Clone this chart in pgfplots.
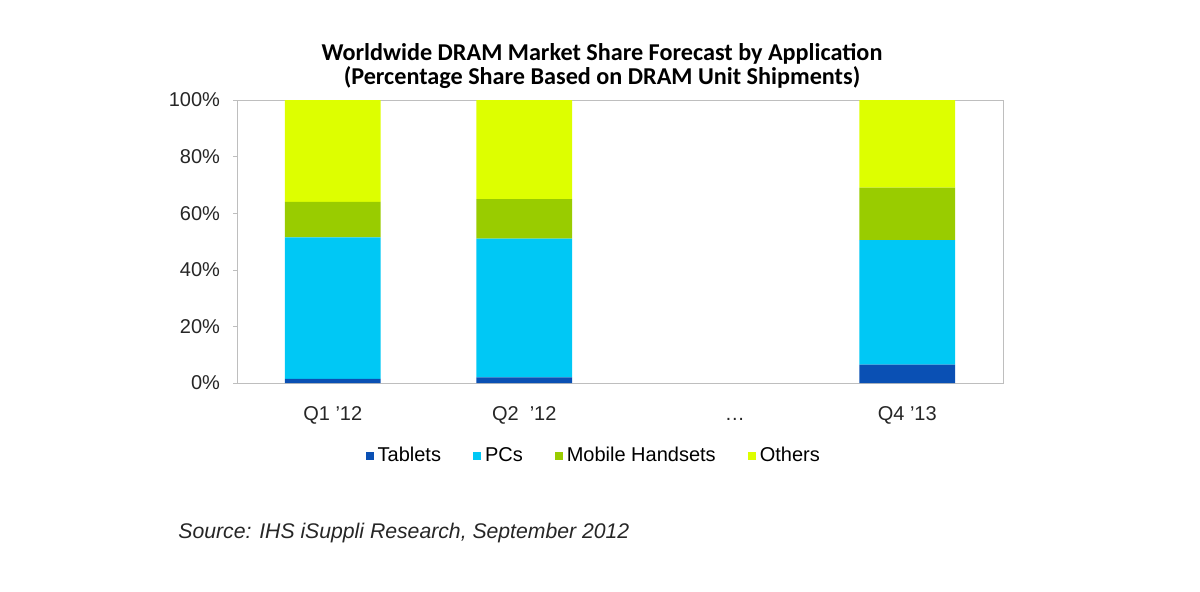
\documentclass[border=0pt]{standalone}
\usepackage{pgfplots}
\pgfplotsset{compat=1.18}
\usepackage{pgfplotstable}
\usepackage{fontspec}
\setmainfont{Liberation Sans}
\newfontfamily\titlefont{Carlito}
\definecolor{tablets}{RGB}{10,80,180}
\definecolor{pcs}{RGB}{0,200,245}
\definecolor{mobile}{RGB}{153,204,0}
\definecolor{others}{RGB}{221,255,0}
\definecolor{axisgray}{RGB}{190,190,190}
\pgfplotstableread{
x tablets pcs mobile others
0 1.5 50 12.5 36
1 2 49 14 35
3 6.5 44 18.5 31
}\datatable
\begin{document}
\begin{tikzpicture}
\useasboundingbox (0,0) rectangle (600pt,295.5pt);
\begin{axis}[
  at={(118.5pt,104pt)}, anchor=south west,
  scale only axis, width=383pt, height=141.5pt,
  ybar stacked, bar width=0.5,
  xmin=-0.5, xmax=3.5, ymin=0, ymax=100,
  xtick={0,1,2.1,3},
  xticklabels={Q1 '12, Q2\ \ '12, \dots, Q4 '13},
  x tick style={draw=none},
  ytick={0,20,40,60,80,100},
  ytick pos=left,
  yticklabel={\pgfmathprintnumber{\tick}\%},
  /pgf/number format/assume math mode=true,
  tick label style={font=\fontsize{10}{12}\selectfont, text=black!85},
  xticklabel style={yshift=-5pt, text height=1.6ex, text depth=0.3ex},
  yticklabel style={xshift=-3pt},
  axis line style={axisgray},
  y tick style={axisgray},
  tick align=outside, major tick length=2pt,
  legend style={at={(axis description cs:0.467,-0.258)}, anchor=center,
    draw=none, legend columns=4, font=\fontsize{10}{12}\selectfont,
    /tikz/every even column/.append style={column sep=14pt}},
  legend image code/.code={\fill[#1] (0pt,-2pt) rectangle (4pt,2pt);},
]
\addplot[fill=tablets, draw=none] table[x=x, y=tablets] {\datatable};
\addplot[fill=pcs, draw=none] table[x=x, y=pcs] {\datatable};
\addplot[fill=mobile, draw=none] table[x=x, y=mobile] {\datatable};
\addplot[fill=others, draw=none] table[x=x, y=others] {\datatable};
\legend{Tablets, PCs, Mobile Handsets, Others}
\end{axis}
\node[font=\titlefont\bfseries\fontsize{12.1}{12}\selectfont, align=center] at (301pt,262.5pt)
  {Worldwide DRAM Market Share Forecast by Application\\(Percentage Share Based on DRAM Unit Shipments)};
\node[anchor=west, inner sep=0pt, font=\itshape\fontsize{10.6}{12}\selectfont, text=black!85] at (89pt,29pt)
  {Source: IHS iSuppli Research, September 2012};
\end{tikzpicture}
\end{document}
